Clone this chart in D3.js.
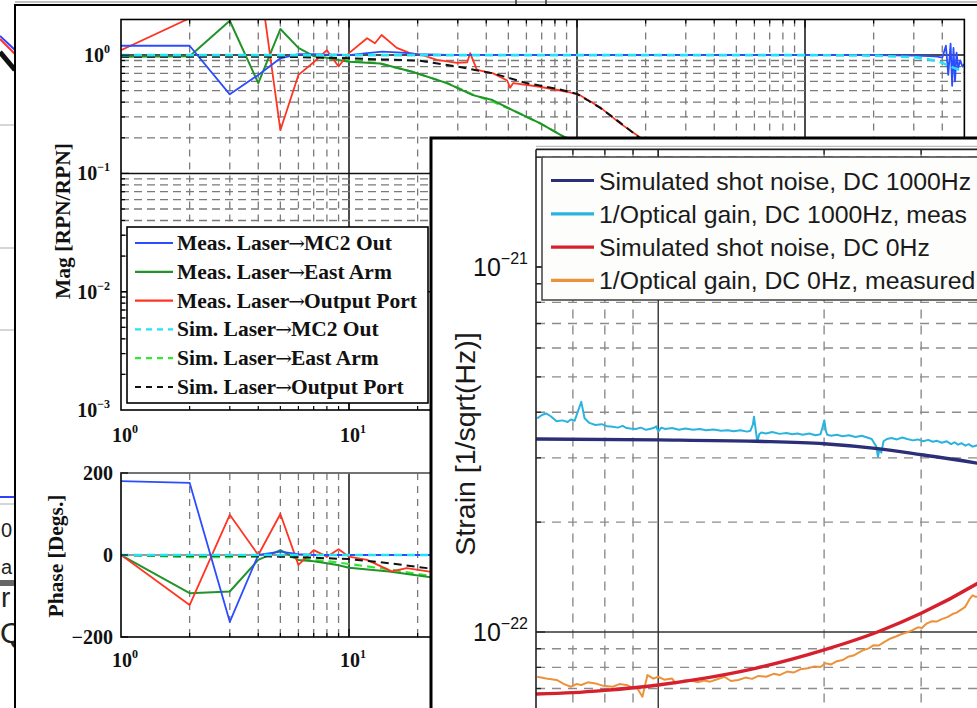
<!DOCTYPE html>
<html>
<head>
<meta charset="utf-8">
<script src="https://cdn.jsdelivr.net/npm/d3@7"></script>
<style>
  html, body { margin: 0; padding: 0; background: #fff; }
  svg { display: block; }
</style>
</head>
<body>
<svg id="chart" width="977" height="708"></svg>
<script>
// ---------------- Transfer function data (frequency in Hz) ----------------
const measMC2Mag = [[1,1.20],[2,1.20],[3,0.466],[4,0.68],[5,0.94],[6,1.02],[7,1.02],[8,1.01],[9,1.01],[10,1.0],
  [12,1.04],[14,1.07],[17,1.05],[20,1.02],[30,1.0],[50,1.0],[100,1.0],[200,1.0],[500,1.0],[1000,1.0],
  [2000,1.0],[3000,0.99],[3500,0.98],[3800,0.97],[4000,0.95],[4150,1.2],[4250,0.68],[4350,1.25],[4420,0.55],
  [4480,1.15],[4550,0.6],[4620,1.05],[4700,0.78],[4800,0.9],[4900,0.8],[5000,0.84]];
const measEastMag = [[1,0.97],[2,0.98],[3,1.95],[4,0.58],[5,1.66],[6,1.15],[7,0.98],[8,0.95],[9,0.91],[10,0.88],
  [13.7,0.85],[19.1,0.72],[26.9,0.58],[34.9,0.459],[42.6,0.417],[52.1,0.343],[68.7,0.266],[86.9,0.206],
  [110,0.16],[150,0.11],[200,0.08],[300,0.05]];
const measOutMag = [[1,1.10],[2,2.05],[3,3.5],[4,5.3],[5,0.232],[6,0.68],[7,0.87],[8,1.10],[9,0.80],[10,1.04],
  [12,1.39],[13,1.26],[13.9,1.48],[16.2,1.15],[18.5,1.04],[21,1.0],[24.3,0.91],[29.8,0.86],[33,0.87],[34,1.04],
  [36.4,0.75],[42.9,0.70],[49.4,0.61],[50.9,0.53],[52.5,0.58],[68.7,0.54],[90.3,0.49],[102.7,0.46],
  [126,0.363],[154,0.266],[188,0.203],[250,0.12],[300,0.08]];
const simMC2Mag = [[1,1],[10,1],[100,1],[1000,1],[2000,0.99],[3000,0.96],[3500,0.92],[4000,0.86],[4500,0.78],[5000,0.72]];
const simEastMag = [[1,1],[3,1],[5,0.99],[7,0.97],[10,0.9],[13.7,0.85],[19.1,0.72],[26.9,0.58],[34.9,0.465],
  [42.6,0.405],[52.1,0.343],[68.7,0.266],[86.9,0.206],[110,0.16],[150,0.11],[200,0.08],[300,0.05]];
const simOutMag = [[1,0.97],[2,0.97],[5,0.97],[10,0.94],[14,0.92],[20,0.90],[30,0.80],[43,0.70],[60,0.58],
  [85,0.51],[100,0.47],[126,0.36],[154,0.27],[188,0.2],[250,0.12],[300,0.08]];

const measMC2Phase = [[1,180],[2,176],[3,-163],[4,0],[5,8],[6,2],[7,0],[8,0],[10,0],[20,0],[50,0],[100,0]];
const measEastPhase = [[1,0],[2,-93],[3,-89],[4,-12],[5,12],[6,-12],[7,-15],[8,-20],[9,-25],[10,-31],
  [15,-40],[22,-53],[30,-60],[50,-75]];
const measOutPhase = [[1,0],[2,-122],[3,98],[4,0],[5,100],[6,-24],[7,12],[8,-4],[9,14],[10,-4],
  [12,-12],[15.4,-40],[17.9,-32],[22.2,-40],[30,-45],[50,-60]];
const simMC2Phase = [[1,0],[10,0],[100,0],[1000,0]];
const simEastPhase = [[1,0],[2,-5],[3,-5],[4,-4],[5,0],[6,-8],[8,-15],[10,-22],[15,-35],[22,-50],[30,-58],[50,-72]];
const simOutPhase = [[1,0],[2,-2],[3,-2],[4,-3],[5,-4],[6,-5],[8,-8],[10,-10],[15,-20],[22,-32],[30,-40],[50,-55]];

const bodeLegend = ["Meas. Laser\u2192MC2 Out", "Meas. Laser\u2192East Arm", "Meas. Laser\u2192Output Port",
  "Sim. Laser\u2192MC2 Out", "Sim. Laser\u2192East Arm", "Sim. Laser\u2192Output Port"];
const magTickExp = ["0", "\u22121", "\u22122", "\u22123"];
const freqTickExp = ["0", "1", "2", "3"];
const phaseTicks = [200, 0, -200];

// ---------------- Strain sensitivity data (Hz, strain/sqrt(Hz)) ----------------
const shotNoise1000 = [[60,3.38e-22],[100,3.36e-22],[150,3.33e-22],[200,3.28e-22],[250,3.18e-22],
  [300,3.06e-22],[380,2.90e-22],[450,2.76e-22],[500,2.66e-22]];
const optGain1000 = [[60.3,3.85e-22],[61.5,3.93e-22],[62.6,3.97e-22],[63.8,3.90e-22],[65.4,3.78e-22],[67.0,3.80e-22],
  [68.5,3.76e-22],[69.4,3.82e-22],[70.5,3.79e-22],[71.6,4.05e-22],[72.5,4.27e-22],[73.5,3.85e-22],[75.0,3.74e-22],
  [76.9,3.69e-22],[79.0,3.71e-22],[80.8,3.66e-22],[82.7,3.65e-22],[84.5,3.63e-22],[86.2,3.67e-22],[87.6,3.62e-22],
  [89.0,3.61e-22],[91.0,3.60e-22],[93.0,3.63e-22],[95.0,3.58e-22],[96.5,3.60e-22],[98.0,3.62e-22],[99.2,3.66e-22],
  [100.0,3.54e-22],[101.3,3.63e-22],[103.0,3.60e-22],[106.0,3.62e-22],[109.0,3.58e-22],[112.0,3.61e-22],
  [115.7,3.58e-22],[119.0,3.60e-22],[122.0,3.57e-22],[126.0,3.59e-22],[130.0,3.56e-22],[133.8,3.57e-22],
  [137.0,3.55e-22],[141.0,3.57e-22],[145.0,3.54e-22],[147.0,3.56e-22],[148.5,3.70e-22],[149.2,3.89e-22],
  [150.2,3.60e-22],[151.3,3.32e-22],[152.5,3.48e-22],[153.8,3.52e-22],[157.0,3.50e-22],[161.0,3.53e-22],
  [166.0,3.49e-22],[171.0,3.51e-22],[175.0,3.48e-22],[178.9,3.50e-22],[183.0,3.47e-22],[188.0,3.50e-22],
  [193.0,3.46e-22],[197.0,3.48e-22],[198.5,3.62e-22],[200.2,3.80e-22],[201.5,3.55e-22],[202.7,3.47e-22],
  [206.0,3.45e-22],[211.0,3.47e-22],[216.0,3.44e-22],[222.0,3.46e-22],[228.0,3.42e-22],[234.0,3.45e-22],
  [239.5,3.41e-22],[244.0,3.38e-22],[248.8,3.22e-22],[250.5,3.02e-22],[252.1,3.18e-22],[254.0,3.10e-22],
  [256.4,3.33e-22],[260.0,3.38e-22],[265.0,3.40e-22],[271.0,3.37e-22],[277.4,3.41e-22],[283.0,3.38e-22],
  [290.0,3.35e-22],[296.0,3.37e-22],[302.7,3.33e-22],[309.0,3.36e-22],[315.0,3.32e-22],[320.8,3.34e-22],
  [327.0,3.30e-22],[334.0,3.33e-22],[340.0,3.27e-22],[344.9,3.31e-22],[350.0,3.26e-22],[355.0,3.29e-22],
  [360.9,3.24e-22],[366.0,3.27e-22],[372.0,3.22e-22],[380.0,3.25e-22],[400.0,3.20e-22]];
const shotNoise0 = [[60,6.76e-23],[70,6.82e-23],[80,6.92e-23],[100,7.16e-23],[120,7.45e-23],[150,7.95e-23],
  [200,8.93e-23],[250,1.0e-22],[300,1.125e-22],[380,1.36e-22],[450,1.6e-22],[500,1.78e-22]];
const optGain0 = [[60.3,7.54e-23],[62.6,7.46e-23],[65.4,7.39e-23],[67.5,7.20e-23],[69.4,7.08e-23],[71.0,7.20e-23],
  [72.5,7.16e-23],[74.5,7.28e-23],[76.9,7.23e-23],[79.5,7.12e-23],[82.7,7.08e-23],[85.0,7.20e-23],[87.6,7.16e-23],
  [89.5,7.05e-23],[91.6,7.01e-23],[93.6,6.65e-23],[95.6,7.62e-23],[98.0,7.45e-23],[100,7.54e-23],[102.5,7.40e-23],
  [105.9,7.46e-23],[107.5,7.23e-23],[110.5,7.35e-23],[113.9,7.39e-23],[118.0,7.28e-23],[121.0,7.36e-23],
  [124.3,7.31e-23],[128.0,7.42e-23],[131.8,7.54e-23],[135.5,7.34e-23],[139.7,7.39e-23],[144.0,7.50e-23],
  [148.0,7.44e-23],[152.0,7.58e-23],[157.0,7.54e-23],[162.0,7.68e-23],[166.0,7.62e-23],[171.4,7.79e-23],
  [176.0,7.74e-23],[181.0,7.90e-23],[186.9,7.95e-23],[192.0,8.05e-23],[197.0,8.02e-23],[201.0,8.21e-23],
  [206.0,8.15e-23],[211.0,8.32e-23],[216.2,8.38e-23],[221.0,8.55e-23],[226.0,8.62e-23],[231.0,8.78e-23],
  [236.0,8.93e-23],[241.0,9.02e-23],[246.0,9.20e-23],[251.0,9.18e-23],[257.9,9.41e-23],[264.0,9.60e-23],
  [270.0,9.72e-23],[276.0,9.86e-23],[283.0,9.98e-23],[290.0,1.013e-22],[296.0,1.03e-22],[301.0,1.026e-22],
  [307.4,1.056e-22],[314.0,1.07e-22],[320.0,1.068e-22],[327.0,1.085e-22],[335.5,1.10e-22],[342.0,1.12e-22],
  [348.0,1.13e-22],[354.0,1.15e-22],[360.3,1.17e-22],[364.0,1.20e-22],[368.1,1.237e-22],[372.0,1.26e-22],
  [376.0,1.25e-22],[380.0,1.25e-22],[390.0,1.29e-22],[400.0,1.32e-22]];
const strainLegend = ["Simulated shot noise, DC 1000Hz", "1/Optical gain, DC 1000Hz, meas",
  "Simulated shot noise, DC 0Hz", "1/Optical gain, DC 0Hz, measured"];
const strainTickExp = ["\u221221", "\u221222"];

// ---------------- Drawing ----------------
const svg = d3.select("#chart");
const defs = svg.append("defs");

// Edge of the neighbouring page content behind the figures
const behind = svg.append("g");
behind.append("rect").attr("width", 977).attr("height", 708).attr("fill", "#fff");
behind.append("line").attr("x1", 15).attr("x2", 977).attr("y1", 2).attr("y2", 2).attr("stroke", "#aaa").attr("stroke-width", 1.5);
behind.append("line").attr("x1", 516).attr("x2", 516).attr("y1", 0).attr("y2", 5).attr("stroke", "#333").attr("stroke-width", 1.5);
behind.append("line").attr("x1", 546).attr("x2", 546).attr("y1", 0).attr("y2", 5).attr("stroke", "#333").attr("stroke-width", 1.5);
[125, 248, 330, 504].forEach(y =>
  behind.append("line").attr("x1", 0).attr("x2", 15).attr("y1", y).attr("y2", y).attr("stroke", "#bbb").attr("stroke-width", 1.2));
behind.append("line").attr("x1", 0).attr("x2", 15).attr("y1", 497).attr("y2", 497).attr("stroke", "#3040ff").attr("stroke-width", 2);
behind.append("line").attr("x1", 0).attr("x2", 15).attr("y1", 36).attr("y2", 50).attr("stroke", "#3040ff").attr("stroke-width", 2);
behind.append("line").attr("x1", 0).attr("x2", 15).attr("y1", 39).attr("y2", 54).attr("stroke", "#ff3030").attr("stroke-width", 2);
behind.append("line").attr("x1", 0).attr("x2", 15).attr("y1", 52).attr("y2", 70).attr("stroke", "#111").attr("stroke-width", 5);
behind.append("rect").attr("x", 0).attr("y", 580).attr("width", 15).attr("height", 6).attr("fill", "#666");
const frag = [["0", 1, 537, 20], ["a", 1, 574, 20], ["r", 1, 607, 28], ["Q", 0, 643, 30]];
frag.forEach(([t, x, y, s]) => behind.append("text").attr("x", x).attr("y", y)
  .attr("font-family", "Liberation Sans, Arial, sans-serif").attr("font-size", s).attr("fill", "#222").text(t));

// ---- Bode figure panel ----
const bode = svg.append("g");
bode.append("rect").attr("x", 15).attr("y", 5).attr("width", 980).attr("height", 720)
  .attr("fill", "#fff").attr("stroke", "#000").attr("stroke-width", 2);

const serif = "Liberation Serif, Times New Roman, serif";
const xB = d3.scaleLog().domain([1, 5000]).range([121, 121 + 228 * Math.log10(5000)]);
const yM = d3.scaleLog().domain([1e-3, 2]).range([410, 410 - 118.3 * Math.log10(2000)]);
const yP = d3.scaleLinear().domain([-200, 200]).range([637, 473]);

function logGrid(lo, hi) {
  const out = [];
  for (let d = Math.floor(Math.log10(lo)); d <= Math.ceil(Math.log10(hi)); d++)
    for (let k = 1; k < 10; k++) {
      const v = k * Math.pow(10, d);
      if (v > lo * 1.0001 && v < hi * 0.9999) out.push({ v, major: k === 1 });
    }
  return out;
}

function clipRect(id, x, y, w, h) {
  defs.append("clipPath").attr("id", id).append("rect").attr("x", x).attr("y", y).attr("width", w).attr("height", h);
}

const [bx0, bx1] = xB.range();
const xGrid = logGrid(1, 5000);

// Magnitude axes
const magG = bode.append("g");
const [my0, my1] = [yM(1e-3), yM(2)];
clipRect("clipMag", bx0, my1, bx1 - bx0, my0 - my1);
xGrid.forEach(g => magG.append("line").attr("x1", xB(g.v)).attr("x2", xB(g.v)).attr("y1", my1).attr("y2", my0)
  .attr("stroke", g.major ? "#111" : "#7a7a7a").attr("stroke-width", g.major ? 1.5 : 1.3)
  .attr("stroke-dasharray", g.major ? null : "7,6"));
logGrid(1e-3, 2).forEach(g => magG.append("line").attr("x1", bx0).attr("x2", bx1).attr("y1", yM(g.v)).attr("y2", yM(g.v))
  .attr("stroke", g.major ? "#111" : "#7a7a7a").attr("stroke-width", g.major ? 1.5 : 1.3)
  .attr("stroke-dasharray", g.major ? null : "8,5"));

const magLine = d3.line().x(d => xB(d[0])).y(d => yM(d[1]));
const bodeSeries = [
  { mag: measMC2Mag, ph: measMC2Phase, color: "#2c4dff", dash: null, w: 1.8 },
  { mag: measEastMag, ph: measEastPhase, color: "#22932a", dash: null, w: 2 },
  { mag: measOutMag, ph: measOutPhase, color: "#ff3422", dash: null, w: 1.8 },
  { mag: simMC2Mag, ph: simMC2Phase, color: "#22e4f4", dash: "8,5", w: 2.6 },
  { mag: simEastMag, ph: simEastPhase, color: "#33e633", dash: "8,5", w: 2.2 },
  { mag: simOutMag, ph: simOutPhase, color: "#111", dash: "8,5", w: 2 }
];
const magData = magG.append("g").attr("clip-path", "url(#clipMag)");
[4, 1, 2, 0, 5, 3].forEach(i => {
  const s = bodeSeries[i];
  magData.append("path").datum(s.mag).attr("d", magLine).attr("fill", "none")
    .attr("stroke", s.color).attr("stroke-width", s.w).attr("stroke-dasharray", s.dash)
    .attr("stroke-linejoin", "round");
});
magG.append("rect").attr("x", bx0).attr("y", my1).attr("width", bx1 - bx0).attr("height", my0 - my1)
  .attr("fill", "none").attr("stroke", "#000").attr("stroke-width", 1.6);
// inward ticks on the magnitude frame
logGrid(1e-3, 2).forEach(g => {
  const L = g.major ? 8 : 4;
  magG.append("line").attr("x1", bx0).attr("x2", bx0 + L).attr("y1", yM(g.v)).attr("y2", yM(g.v)).attr("stroke", "#000").attr("stroke-width", 1.2);
});
xGrid.forEach(g => {
  const L = g.major ? 8 : 4;
  magG.append("line").attr("x1", xB(g.v)).attr("x2", xB(g.v)).attr("y1", my0).attr("y2", my0 - L).attr("stroke", "#000").attr("stroke-width", 1.2);
  magG.append("line").attr("x1", xB(g.v)).attr("x2", xB(g.v)).attr("y1", my1).attr("y2", my1 + L).attr("stroke", "#000").attr("stroke-width", 1.2);
});

// Legend for the transfer functions
const lg = magG.append("g");
lg.append("rect").attr("x", 127).attr("y", 227).attr("width", 301).attr("height", 176)
  .attr("fill", "#fff").attr("stroke", "#000").attr("stroke-width", 1.6);
bodeLegend.forEach((t, i) => {
  const y = 243 + i * 28.8, s = bodeSeries[i];
  lg.append("line").attr("x1", 135).attr("x2", 173).attr("y1", y).attr("y2", y)
    .attr("stroke", s.color).attr("stroke-width", 2.2).attr("stroke-dasharray", s.dash ? "6,5" : null);
  const [a, b] = t.split("\u2192");
  const tx = lg.append("text").attr("x", 177).attr("y", y + 7).attr("font-family", serif).attr("font-weight", "bold")
    .attr("font-size", 21.5).attr("fill", "#111");
  tx.append("tspan").text(a);
  tx.append("tspan").attr("font-family", "DejaVu Serif, serif").attr("font-weight", "normal").attr("font-size", 20)
    .attr("dx", -1).text("\u2192");
  tx.append("tspan").attr("dx", -1).text(b);
});

function powLabel(g, x, y, exp, o) {
  const t = g.append("text").attr("x", x).attr("y", y).attr("text-anchor", o.anchor)
    .attr("font-family", o.family).attr("font-weight", o.weight).attr("font-size", o.size).attr("fill", "#111");
  t.append("tspan").text("10");
  t.append("tspan").attr("dy", -o.raise).attr("font-size", o.sup).text(exp);
  return t;
}
const bodeLab = { family: serif, weight: "bold", size: 20, sup: 12, raise: 9 };

magTickExp.forEach((e, i) => powLabel(bode, 110, yM(Math.pow(10, -i)) + 7, e, { ...bodeLab, anchor: "end" }));
freqTickExp.forEach((e, i) => powLabel(bode, xB(Math.pow(10, i)) + 4, 442, e, { ...bodeLab, anchor: "middle" }));

bode.append("text").attr("transform", "translate(70,221) rotate(-90)").attr("text-anchor", "middle")
  .attr("font-family", serif).attr("font-weight", "bold").attr("font-size", 21.5).attr("fill", "#111")
  .text("Mag [RPN/RPN]");

// Phase axes
const phG = bode.append("g");
const [py0, py1] = [yP(-200), yP(200)];
clipRect("clipPh", bx0, py1, bx1 - bx0, py0 - py1);
xGrid.forEach(g => phG.append("line").attr("x1", xB(g.v)).attr("x2", xB(g.v)).attr("y1", py1).attr("y2", py0)
  .attr("stroke", g.major ? "#111" : "#7a7a7a").attr("stroke-width", g.major ? 1.5 : 1.3)
  .attr("stroke-dasharray", g.major ? null : "7,6"));
phG.append("line").attr("x1", bx0).attr("x2", bx1).attr("y1", yP(0)).attr("y2", yP(0))
  .attr("stroke", "#9a9a9a").attr("stroke-width", 2);
const phLine = d3.line().x(d => xB(d[0])).y(d => yP(d[1]));
const phData = phG.append("g").attr("clip-path", "url(#clipPh)");
[4, 1, 2, 0, 5, 3].forEach(i => {
  const s = bodeSeries[i];
  phData.append("path").datum(s.ph).attr("d", phLine).attr("fill", "none")
    .attr("stroke", s.color).attr("stroke-width", s.w).attr("stroke-dasharray", s.dash)
    .attr("stroke-linejoin", "round");
});
phG.append("rect").attr("x", bx0).attr("y", py1).attr("width", bx1 - bx0).attr("height", py0 - py1)
  .attr("fill", "none").attr("stroke", "#000").attr("stroke-width", 1.6);
phG.append("line").attr("x1", bx0).attr("x2", bx1).attr("y1", py1).attr("y2", py1).attr("stroke", "#888").attr("stroke-width", 1.5);
xGrid.forEach(g => {
  const L = g.major ? 8 : 4;
  phG.append("line").attr("x1", xB(g.v)).attr("x2", xB(g.v)).attr("y1", py0).attr("y2", py0 - L).attr("stroke", "#000").attr("stroke-width", 1.2);
});
phaseTicks.forEach(v => {
  phG.append("line").attr("x1", bx0).attr("x2", bx0 + 7).attr("y1", yP(v)).attr("y2", yP(v)).attr("stroke", "#000").attr("stroke-width", 1.2);
  phG.append("text").attr("x", 113).attr("y", yP(v) + 7).attr("text-anchor", "end")
    .attr("font-family", serif).attr("font-weight", "bold").attr("font-size", 20).attr("fill", "#111")
    .text(v < 0 ? "\u2212" + Math.abs(v) : String(v));
});
freqTickExp.forEach((e, i) => powLabel(bode, xB(Math.pow(10, i)) + 4, 667, e, { ...bodeLab, anchor: "middle" }));
bode.append("text").attr("transform", "translate(63,556) rotate(-90)").attr("text-anchor", "middle")
  .attr("font-family", serif).attr("font-weight", "bold").attr("font-size", 21.5).attr("fill", "#111")
  .text("Phase [Degs.]");

// ---- Strain sensitivity panel ----
const sans = "Liberation Sans, Arial, Helvetica, sans-serif";
const strain = svg.append("g");
strain.append("rect").attr("x", 431).attr("y", 138).attr("width", 560).attr("height", 580)
  .attr("fill", "#fff").attr("stroke", "#000").attr("stroke-width", 3);

const xS = d3.scaleLog().domain([60, 500]).range([536, 536 + 551 * Math.log10(500 / 60)]);
const yS = d3.scaleLog().domain([6e-23, 2.1e-21])
  .range([632 - 365 * (Math.log10(6e-23) + 22), 632 - 365 * (Math.log10(2.1e-21) + 22)]);
const [sx0, sx1] = xS.range();
const [sy0, sy1] = yS.range();
clipRect("clipS", sx0, sy1, sx1 - sx0, sy0 - sy1);

const sg = strain.append("g");
logGrid(60, 500).forEach(g => sg.append("line").attr("x1", xS(g.v)).attr("x2", xS(g.v)).attr("y1", sy1).attr("y2", sy0)
  .attr("stroke", g.major ? "#333" : "#8c8c8c").attr("stroke-width", 1.4)
  .attr("stroke-dasharray", g.major ? null : "9,7"));
logGrid(6e-23, 2.1e-21).forEach(g => sg.append("line").attr("x1", sx0).attr("x2", sx1).attr("y1", yS(g.v)).attr("y2", yS(g.v))
  .attr("stroke", g.major ? "#333" : "#8c8c8c").attr("stroke-width", 1.4)
  .attr("stroke-dasharray", g.major ? null : "9,7"));

const sLine = d3.line().x(d => xS(d[0])).y(d => yS(d[1]));
const sSmooth = d3.line().x(d => xS(d[0])).y(d => yS(d[1])).curve(d3.curveMonotoneX);
const strainSeries = [
  { data: shotNoise1000, color: "#2a2f78", w: 3.4, gen: sSmooth },
  { data: optGain1000, color: "#2bb3df", w: 2, gen: sLine },
  { data: shotNoise0, color: "#d6202e", w: 3.4, gen: sSmooth },
  { data: optGain0, color: "#eb923a", w: 2, gen: sLine }
];
const sData = sg.append("g").attr("clip-path", "url(#clipS)");
[1, 0, 3, 2].forEach(i => {
  const s = strainSeries[i];
  sData.append("path").datum(s.data).attr("d", s.gen).attr("fill", "none")
    .attr("stroke", s.color).attr("stroke-width", s.w).attr("stroke-linejoin", "round");
});

// frame and inward ticks
sg.append("line").attr("x1", sx0).attr("x2", sx0).attr("y1", sy1).attr("y2", 708).attr("stroke", "#222").attr("stroke-width", 1.6);
sg.append("line").attr("x1", sx0).attr("x2", 977).attr("y1", sy1).attr("y2", sy1).attr("stroke", "#222").attr("stroke-width", 1.6);
sg.append("line").attr("x1", sx0).attr("x2", 977).attr("y1", sy1 - 3).attr("y2", sy1 - 3).attr("stroke", "#bbb").attr("stroke-width", 1.2);
logGrid(60, 500).forEach(g => sg.append("line").attr("x1", xS(g.v)).attr("x2", xS(g.v)).attr("y1", sy1).attr("y2", sy1 + (g.major ? 9 : 5))
  .attr("stroke", "#222").attr("stroke-width", 1.3));
logGrid(6e-23, 2.1e-21).forEach(g => sg.append("line").attr("x1", sx0).attr("x2", sx0 + (g.major ? 9 : 5)).attr("y1", yS(g.v)).attr("y2", yS(g.v))
  .attr("stroke", "#222").attr("stroke-width", 1.3));

// legend
const sl = sg.append("g");
sl.append("rect").attr("x", 542).attr("y", 157).attr("width", 460).attr("height", 143)
  .attr("fill", "#fdfdfb").attr("stroke", "#333").attr("stroke-width", 1.4);
strainLegend.forEach((t, i) => {
  const y = 180.5 + i * 33.3, s = strainSeries[i];
  sl.append("line").attr("x1", 551).attr("x2", 594).attr("y1", y).attr("y2", y)
    .attr("stroke", s.color).attr("stroke-width", 3.2);
  sl.append("text").attr("x", 599).attr("y", y + 9).attr("font-family", sans).attr("font-size", 24.8)
    .attr("fill", "#1a1a1a").text(t);
});

// y tick labels and axis title
strainTickExp.forEach((e, i) => powLabel(strain, 528, yS(Math.pow(10, -21 - i)) + 9, e,
  { family: sans, weight: "normal", size: 25, sup: 16, raise: 12, anchor: "end" }));
strain.append("text").attr("transform", "translate(475,444) rotate(-90)").attr("text-anchor", "middle")
  .attr("font-family", sans).attr("font-size", 28.5).attr("fill", "#1a1a1a").text("Strain [1/sqrt(Hz)]");
</script>
</body>
</html>
